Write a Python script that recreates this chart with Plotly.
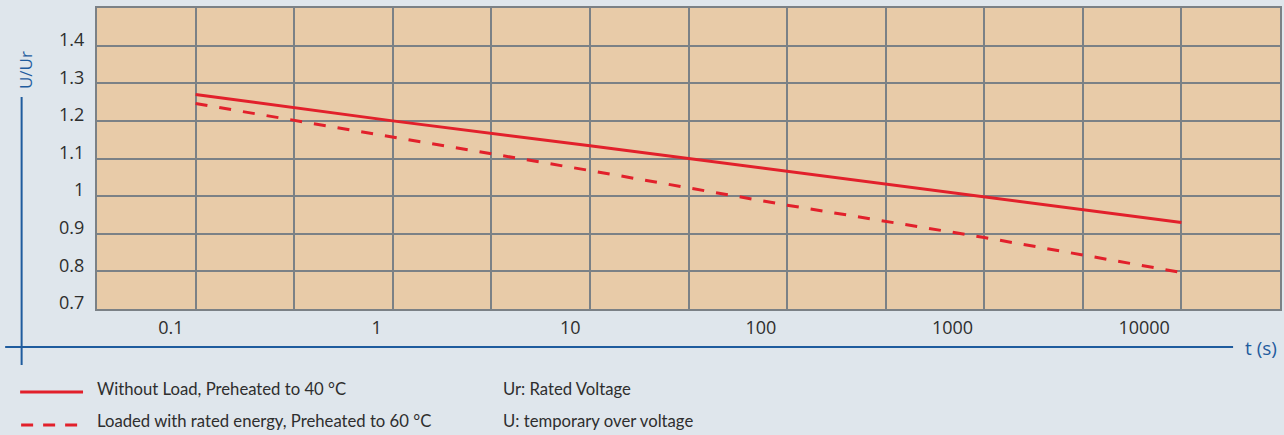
import plotly.graph_objects as go

# ---- data ----
t_values = [0.1, 1, 10, 100, 1000, 10000]
u_without_load = [1.27, 1.2, 1.134, 1.066, 1.0, 0.93]
u_loaded = [1.246, 1.156, 1.068, 0.976, 0.89, 0.797]
series_names = ["Without Load, Preheated to 40 °C",
                "Loaded with rated energy, Preheated to 60 °C"]
notes = ["Ur: Rated Voltage", "U: temporary over voltage"]
x_tick_labels = ["0.1", "1", "10", "100", "1000", "10000"]
y_tick_values = [0.7, 0.8, 0.9, 1.0, 1.1, 1.2, 1.3, 1.4]
y_tick_labels = ["0.7", "0.8", "0.9", "1", "1.1", "1.2", "1.3", "1.4"]

# label placement (log10 units) as drawn in the original artwork
x_label_log_pos = [-1.125, -0.082, 0.900, 1.867, 2.839, 3.811]

RED = "#e2202b"
BLUE = "#1f5c9e"
GRID = "#7b8186"
BG = "#dfe6ec"
PLOT_BG = "#e8cba8"
TXT = "#2e2e2e"

W, H = 1284, 435
ML, MR, MT, MB = 97, 2, 8, 126
PW, PH = W - ML - MR, H - MT - MB


def px(xp):
    return (xp - ML) / PW


def py(yp):
    return (H - MB - yp) / PH


fig = go.Figure()
fig.add_trace(go.Scatter(x=t_values, y=u_without_load, mode="lines",
                         line=dict(color=RED, width=3), name=series_names[0],
                         showlegend=False))
fig.add_trace(go.Scatter(x=t_values, y=u_loaded, mode="lines",
                         line=dict(color=RED, width=3, dash="12px,12px"),
                         name=series_names[1], showlegend=False))
fig.add_trace(go.Scatter(x=[], y=[], xaxis="x2", showlegend=False))

grid_vals = [10 ** (k / 2) for k in range(-3, 10)]

fig.update_layout(
    width=W, height=H,
    margin=dict(l=ML, r=MR, t=MT, b=MB),
    paper_bgcolor=BG, plot_bgcolor=PLOT_BG,
    xaxis=dict(type="log", range=[-1.5, 4.5], tickvals=grid_vals,
               showticklabels=False, showgrid=True, gridcolor=GRID, gridwidth=2,
               showline=True, mirror=True, linecolor=GRID, linewidth=2,
               ticks=""),
    xaxis2=dict(type="log", range=[-1.5, 4.5], overlaying="x", anchor="y",
                side="bottom",
                tickvals=[10 ** v for v in x_label_log_pos], ticktext=x_tick_labels,
                showgrid=False, showline=False, ticks="", ticklabelstandoff=6,
                tickfont=dict(family="Open Sans", size=18, color=TXT)),
    yaxis=dict(range=[0.7, 1.5], tickvals=y_tick_values, ticktext=y_tick_labels,
               showgrid=True, gridcolor=GRID, gridwidth=2,
               showline=True, mirror=True, linecolor=GRID, linewidth=2,
               ticks="", ticklabelstandoff=7, ticklabelshift=-6, zeroline=False,
               tickfont=dict(family="Open Sans", size=18, color=TXT)),
    showlegend=False,
    hovermode=False,
)

shapes = [
    dict(type="line", xref="paper", yref="paper", x0=px(21.5), x1=px(21.5),
         y0=py(97), y1=py(365), line=dict(color=BLUE, width=2)),
    dict(type="line", xref="paper", yref="paper", x0=px(5), x1=px(1235),
         y0=py(347), y1=py(347), line=dict(color=BLUE, width=2)),
    dict(type="line", xref="paper", yref="paper", x0=px(20), x1=px(83),
         y0=py(392), y1=py(392), line=dict(color=RED, width=3)),
    dict(type="line", xref="paper", yref="paper", x0=px(21), x1=px(83),
         y0=py(425), y1=py(425), line=dict(color=RED, width=3, dash="12px,10px")),
]

LEG_FONT = dict(family="Lato", size=16.7, color=TXT)
annotations = [
    dict(text="U/Ur", xref="paper", yref="paper", x=px(25), y=py(70),
         textangle=-90, showarrow=False, xanchor="center", yanchor="middle",
         font=dict(family="Open Sans", size=17, color=BLUE)),
    dict(text="t (s)", xref="paper", yref="paper", x=px(1245), y=py(348),
         showarrow=False, xanchor="left", yanchor="middle",
         font=dict(family="Open Sans", size=19, color=BLUE)),
    dict(text=series_names[0], xref="paper", yref="paper", x=px(95), y=py(389),
         showarrow=False, xanchor="left", yanchor="middle", font=LEG_FONT),
    dict(text=series_names[1], xref="paper", yref="paper", x=px(95), y=py(421),
         showarrow=False, xanchor="left", yanchor="middle", font=LEG_FONT),
    dict(text=notes[0], xref="paper", yref="paper", x=px(502), y=py(389),
         showarrow=False, xanchor="left", yanchor="middle", font=LEG_FONT),
    dict(text=notes[1], xref="paper", yref="paper", x=px(502), y=py(421),
         showarrow=False, xanchor="left", yanchor="middle", font=LEG_FONT),
]
fig.update_layout(shapes=shapes, annotations=annotations)

fig.write_html(
    "out.html",
    config={"displayModeBar": False, "staticPlot": True},
    post_script=("document.body.style.margin='0';"
                 "document.body.style.overflow='hidden';"
                 "document.body.style.background='" + BG + "';"),
)
